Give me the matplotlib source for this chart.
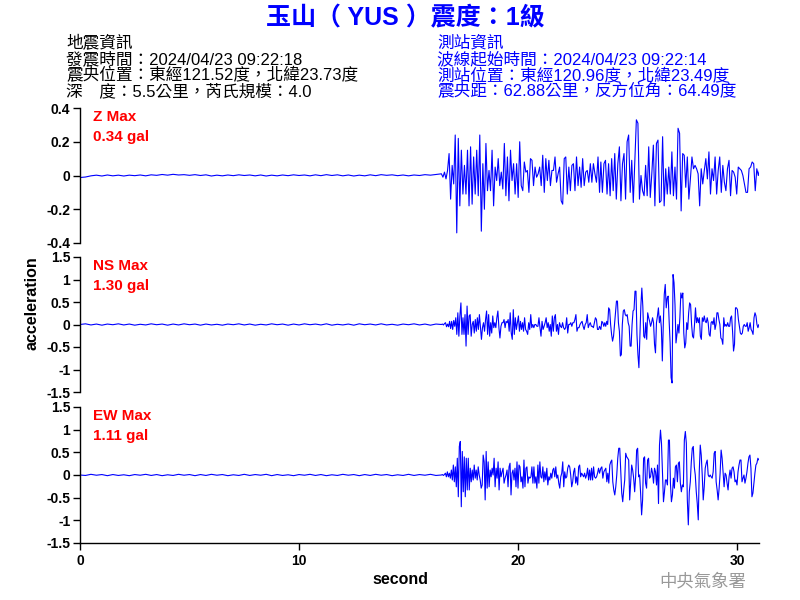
import numpy as np
import matplotlib
matplotlib.use('Agg')
import matplotlib.pyplot as plt

plt.rcParams['font.family'] = ['Liberation Sans', 'Noto Sans CJK TC', 'DejaVu Sans']

# ---------------- text ----------------
TITLE = '玉山（ YUS ）震度：1級'
QUAKE_INFO = ['地震資訊',
              '發震時間：2024/04/23 09:22:18',
              '震央位置：東經121.52度，北緯23.73度',
              '深　度：5.5公里，芮氏規模：4.0']
STATION_INFO = ['測站資訊',
                '波線起始時間：2024/04/23 09:22:14',
                '測站位置：東經120.96度，北緯23.49度',
                '震央距：62.88公里，反方位角：64.49度']
COMPONENTS = ['Z', 'NS', 'EW']
MAX_LABELS = ['0.34 gal', '1.30 gal', '1.11 gal']
WATERMARK = '中央氣象署'
X_LABEL = 'second'
Y_LABEL = 'acceleration'

# ---------------- axes ----------------
X_MAX = 31
X_TICKS = [0, 10, 20, 30]
Z_TICKS = [-0.4, -0.2, 0, 0.2, 0.4]
Z_TICKLABELS = ['-0.4', '-0.2', '0', '0.2', '0.4']
H_TICKS = [-1.5, -1, -0.5, 0, 0.5, 1, 1.5]
H_TICKLABELS = ['-1.5', '-1', '-0.5', '0', '0.5', '1', '1.5']

# ---------------- sample times of the three record segments (s) ----------------
QUIET_START, QUIET_END = 0.0, 16.5
A_START, A_END = 16.5, 23.72
B_START, B_END = 23.78, 31.04

# ---------------- Z component (gal) ----------------
Z_QUIET = [-0.012, -0.009, -0.002, 0.002, -0.003, 0.003, -0.002, 0.002, -0.003, 0.002, -0.001, 0.003,
           -0.002, 0.004, 0.001, 0.006, 0.002, 0.007, 0.003, 0.005, 0.001, 0.005, 0.000, 0.004,
           -0.003, 0.002, -0.002, 0.003, -0.001, 0.004, 0.000, 0.003, -0.002, 0.003, -0.003, 0.002,
           -0.002, 0.003, -0.001, 0.004, 0.000, 0.003, -0.002, 0.004, -0.001, 0.005, 0.000, 0.004,
           -0.002, 0.003, -0.003, 0.002, -0.002, 0.004, -0.001, 0.005, 0.001, 0.004, -0.001, 0.003,
           -0.002, 0.003, 0.000, 0.005, 0.002, 0.006]
Z_A = [0.01, -0.01, 0.02, -0.02, 0.03, 0.13, -0.14, 0.06, -0.05, 0.24, -0.34, 0.22,
       -0.18, 0.15, -0.11, 0.06, -0.11, 0.15, -0.18, 0.17, -0.17, 0.11, -0.11, 0.15, -0.12,
       0.24, -0.33, 0.07, -0.20, 0.19, -0.09, 0.03, -0.09, 0.15, -0.18,
       0.05, -0.03, 0.10, -0.06, 0.02, -0.08, 0.19, -0.12, 0.11, -0.15, 0.15, -0.03, 0.07,
       -0.11, 0.07, -0.13, 0.20, -0.06, -0.09, 0.08, 0.02, 0.03, -0.10, 0.10, 0.09, -0.06,
       0.05, -0.01, 0.01, 0.05, -0.06, 0.12, -0.10, 0.10, -0.03, 0.09, -0.06, 0.03, 0.03,
       0.11, -0.04, 0.01, 0.05, -0.15, -0.17, 0.10, 0.11, -0.11, 0.05, -0.09, 0.06, 0.07,
       -0.09, 0.11, -0.06, 0.05, -0.07, 0.10, -0.06, 0.02, 0.03, -0.04, 0.07, -0.04, 0.07,
       0.01, -0.04, 0.11, -0.10]
Z_B = [0.08, -0.10, 0.07, 0.09, -0.11, 0.07, -0.12, 0.10, -0.09, 0.13, -0.14, 0.07, 0.17,
       -0.15, 0.07, 0.13, -0.14, 0.20, 0.24, -0.10, 0.09, -0.16, 0.08, 0.33, 0.31, -0.14,
       0.00, -0.09, -0.12, 0.06, -0.12, 0.17, -0.13, 0.01, 0.18, -0.18, 0.19, 0.21, -0.16,
       -0.15, 0.23, -0.18, 0.04, -0.11, 0.05, -0.11, 0.14, -0.12, 0.05, -0.14, 0.28, 0.25,
       -0.21, 0.13, 0.12, -0.07, 0.11, -0.14, -0.02, 0.11, 0.04, 0.06, 0.04, 0.01, -0.18,
       0.04, -0.05, 0.03, 0.10, -0.02, 0.14, -0.11, 0.04, -0.03, 0.11, -0.11, 0.03, 0.11,
       -0.10, 0.06, -0.04, -0.09, 0.04, 0.09, -0.12, 0.03, 0.02, -0.01, -0.11, 0.05, 0.04,
       0.03, 0.00, -0.05, -0.10, -0.10, 0.04, 0.05, 0.08, 0.07, -0.09, 0.04, 0.00, 0.04]

# ---------------- NS component (gal) ----------------
NS_QUIET = [0.000, 0.015, -0.010, 0.010, -0.015, 0.010, -0.005, 0.015, -0.010, 0.010, -0.015, 0.005,
            -0.010, 0.015, -0.005, 0.010, -0.015, 0.010, -0.010, 0.015, -0.005, 0.010, -0.015, 0.010,
            -0.010, 0.005, -0.015, 0.010, -0.005, 0.015, -0.010, 0.010, -0.015, 0.005, -0.010, 0.015,
            -0.005, 0.010, -0.015, 0.010, -0.010, 0.015, -0.005, 0.010, -0.010, 0.015, -0.015, 0.005,
            -0.010, 0.010, -0.015, 0.015, -0.005, 0.010, -0.010, 0.015, -0.010, 0.005, -0.015, 0.010,
            -0.005, 0.015, -0.010, 0.010, -0.015, 0.010]
NS_A = [0.00, 0.01, -0.01, 0.02,
        0.04, -0.05, 0.01, -0.05, 0.07, -0.09, 0.07, -0.11, 0.09, -0.04, 0.15, -0.22, 0.26,
        -0.26, 0.19, 0.48, -0.22, 0.15, -0.22, 0.22, -0.48, 0.41, -0.22, 0.19, 0.22, -0.26,
        0.00, 0.07, -0.19, 0.11, -0.15, 0.15, -0.11, 0.22, -0.07, -0.33, -0.07, 0.04, -0.15,
        0.11, 0.30, -0.22, 0.22, -0.26, 0.04, -0.19, 0.19, -0.07, 0.04, -0.07, 0.15, 0.30,
        -0.07, -0.30, -0.04, 0.04, 0.04, 0.11, -0.07, 0.07, 0.04, 0.11, -0.15, 0.26, -0.19,
        -0.33, 0.33, -0.22, 0.15, -0.11, 0.04, 0.19, -0.15, 0.07, -0.11, 0.04, -0.15, 0.15,
        -0.11, -0.15, -0.22, 0.04, -0.11, 0.22, -0.07, 0.00, -0.07, 0.00, 0.00, -0.04, -0.04,
        0.15, -0.07, -0.26, 0.07, -0.11, -0.04, 0.04, 0.15, -0.07, 0.04, -0.15, 0.00, -0.26,
        0.19, -0.15, 0.15, 0.22, -0.15, 0.00, -0.22, 0.04, -0.04, -0.07, 0.04, -0.07, -0.11,
        -0.07, 0.15, -0.19, 0.00, 0.00, 0.04, -0.04, 0.04, 0.04, 0.11, 0.22, -0.15, -0.07,
        -0.07, 0.00, 0.04, 0.07, -0.04, -0.11, 0.00, 0.04, 0.22, -0.07, 0.00, 0.04, -0.04,
        -0.04, -0.07, 0.04, 0.15, 0.11, -0.11, -0.11, -0.04]
NS_B = [-0.11, 0.07, 0.04, -0.04, 0.04, -0.04, 0.07, 0.00, 0.37, 0.33, 0.00, -0.22, -0.37,
        -0.26, 0.00, 0.26, 0.52, 0.52, 0.04, -0.15, -0.70, -0.67, 0.00, 0.30, 0.33, 0.22,
        0.19, 0.22, 0.04, -0.04, -0.48, -0.48, 0.00, 0.30, 0.33, 0.74, 0.74, -0.22, -0.67,
        -0.96, -0.26, 0.41, 0.81, 0.41, -0.26, -0.30, 0.04, -0.33, 0.26, 0.15, 0.07, -0.04,
        0.04, 0.15, 0.04, -0.44, -0.63, 0.04, 0.19, 0.37, 0.04, 0.19, -0.07, -0.81, 0.00,
        0.67, 0.89, 0.37, 0.59, 0.63, 0.07, -0.41, -1.18, -1.30, 1.11, 0.93, 0.44, -0.41,
        -0.22, 0.00, -0.19, 0.15, 0.70, 0.59, 0.70, -0.19, -0.52, -0.41, 0.04, -0.11, 0.26,
        0.48, 0.44, 0.00, -0.26, -0.30, 0.00, 0.37, 0.04, 0.15, 0.04, 0.15, -0.26, -0.33,
        0.15, 0.07, 0.19, 0.07, 0.04, 0.15, 0.04, -0.22, -0.26, 0.04, 0.07, 0.00, 0.15,
        -0.11, 0.00, 0.26, 0.26, 0.11, 0.00, -0.30, -0.33, -0.44, 0.15, -0.04, 0.00, -0.04,
        0.04, -0.04, -0.04, 0.15, 0.19, -0.15, -0.59, -0.44, 0.37, 0.37, 0.33, 0.11, -0.04,
        -0.19, -0.22, -0.19, -0.04, 0.00, -0.04, -0.04, 0.04, -0.15, -0.07, 0.04, -0.11,
        -0.15, -0.22, 0.15, 0.26, 0.19, 0.00, -0.07, 0.00, 0.00]

# ---------------- EW component (gal) ----------------
EW_QUIET = [0.000, -0.010, 0.015, -0.005, 0.010, -0.015, 0.010, -0.010, 0.005, -0.015, 0.010, -0.005,
            0.015, -0.010, 0.010, -0.015, 0.005, -0.010, 0.015, -0.005, 0.010, -0.015, 0.010, -0.010,
            0.015, -0.005, 0.010, -0.015, 0.005, -0.010, 0.015, -0.010, 0.010, -0.005, 0.015, -0.015,
            0.010, -0.010, 0.005, -0.015, 0.010, -0.005, 0.015, -0.010, 0.010, -0.015, 0.005, -0.010,
            0.015, -0.005, 0.010, -0.015, 0.010, -0.010, 0.015, -0.005, 0.010, -0.015, 0.005, -0.010,
            0.015, -0.010, 0.010, -0.005, 0.015, -0.010]
EW_A = [0.00, 0.01, -0.01, 0.01,
        0.04, -0.04, 0.07, -0.04, 0.04, -0.07, 0.11, -0.11, 0.22, -0.15, 0.18, -0.26, 0.37,
        -0.48, 0.63, 0.74, -0.70, 0.52, -0.37, 0.40, -0.48, 0.37, -0.33, 0.37, -0.33, 0.15,
        -0.15, 0.11, -0.11, 0.22, -0.07, 0.11, -0.11, 0.18, 0.00, -0.11, -0.29, -0.22, 0.44,
        0.29, -0.55, 0.52, -0.29, 0.29, -0.26, 0.11, -0.04, 0.15, 0.00, 0.37, -0.26, 0.15,
        -0.07, 0.29, -0.33, 0.15, -0.04, 0.07, 0.15, -0.18, -0.07, 0.00, 0.11, -0.26, 0.18,
        0.26, -0.44, 0.04, 0.11, -0.11, 0.15, -0.26, 0.29, -0.29, 0.22, 0.18, -0.15, -0.04,
        -0.29, 0.33, -0.26, 0.15, 0.18, -0.18, -0.04, -0.07, -0.04, 0.18, -0.18, 0.18, -0.18,
        -0.04, -0.29, 0.22, -0.18, 0.29, -0.04, -0.07, 0.18, -0.15, 0.07, -0.11, 0.15, -0.22,
        -0.04, -0.11, 0.04, -0.07, 0.11, 0.15, -0.04, 0.18, -0.07, 0.00, -0.18, -0.29, -0.04,
        0.04, 0.29, -0.26, 0.07, -0.07, -0.04, 0.15, 0.22, 0.18, 0.00, -0.26, -0.15, 0.07,
        0.15, -0.18, -0.04, -0.22, 0.18, 0.22, -0.04, 0.04, 0.00, -0.04, 0.04, -0.07, 0.00,
        0.15, -0.11, 0.11, -0.11, 0.15, -0.11, 0.18, -0.04, -0.07, -0.04, 0.04, 0.15, 0.04]
EW_B = [0.15, 0.18, -0.07, 0.07, 0.11, 0.15, -0.15, 0.04, -0.18, 0.22, 0.29, 0.33, -0.15,
        -0.33, -0.44, -0.26, 0.00, 0.37, 0.59, 0.59, 0.07, -0.40, -0.59, -0.33, -0.11, 0.48,
        0.40, 0.37, 0.33, -0.55, -0.15, 0.22, 0.11, -0.07, -0.37, -0.04, 0.55, 0.59, -0.04,
        0.00, -0.40, -0.88, -0.55, 0.37, 0.40, -0.18, -0.29, 0.33, 0.37, -0.07, -0.04, 0.15,
        0.04, -0.18, 0.15, 0.07, -0.22, 0.22, -0.63, 0.66, 0.99, 0.70, 0.07, -0.59, -0.37,
        -0.11, -0.11, -0.22, 0.77, 0.77, -0.18, -0.59, -0.44, -0.07, -0.29, 0.18, 0.22, -0.15,
        0.26, 0.29, -0.18, -0.37, -0.22, -0.26, 0.77, 0.96, 0.70, -0.55, -1.10, -0.37, -0.15,
        0.29, 0.59, 0.63, 0.18, 0.00, -0.37, -0.63, -0.99, 0.07, 0.66, 0.44, 0.00, -0.55,
        -0.26, 0.15, 0.26, 0.33, 0.00, -0.04, 0.00, -0.04, -0.07, 0.07, 0.48, 0.52, -0.15,
        -0.33, -0.55, -0.29, 0.04, 0.55, 0.37, 0.07, -0.26, 0.04, 0.00, -0.18, -0.33, -0.04,
        0.11, -0.07, 0.15, 0.18, 0.07, -0.15, -0.11, -0.22, 0.07, 0.22, 0.33, 0.33, -0.15,
        -0.07, 0.00, -0.18, -0.07, 0.07, 0.26, 0.40, 0.44, 0.15, -0.48, -0.40, -0.18, 0.04,
        0.22, 0.26, 0.37, 0.33, 0.33]

TRACES = [(Z_QUIET, Z_A, Z_B), (NS_QUIET, NS_A, NS_B), (EW_QUIET, EW_A, EW_B)]

BLUE = '#0000FF'
RED = '#FF0000'


def build(quiet, seg_a, seg_b):
    t = np.concatenate([
        np.linspace(QUIET_START, QUIET_END, len(quiet), endpoint=False),
        np.linspace(A_START, A_END, len(seg_a)),
        np.linspace(B_START, B_END, len(seg_b)),
    ])
    v = np.concatenate([quiet, seg_a, seg_b])
    return t, v


fig = plt.figure(figsize=(8, 6), dpi=100)

W, H = 800.0, 600.0
left = 80 / W
width = (759 - 80) / W
panel_px = [(108, 243), (257, 392), (407, 543)]   # top, bottom in pixels

for k, (comp, lab, traces) in enumerate(zip(COMPONENTS, MAX_LABELS, TRACES)):
    top, bot = panel_px[k]
    ax = fig.add_axes([left, 1 - bot / H, width, (bot - top) / H])
    t, v = build(*traces)
    ax.plot(t, v, color=BLUE, lw=0.8)
    ax.set_xlim(0, X_MAX)
    if k == 0:
        ax.set_ylim(-0.4, 0.4)
        ax.set_yticks(Z_TICKS)
        ax.set_yticklabels(Z_TICKLABELS)
    else:
        ax.set_ylim(-1.5, 1.5)
        ax.set_yticks(H_TICKS)
        ax.set_yticklabels(H_TICKLABELS)
    for s in ['top', 'right']:
        ax.spines[s].set_visible(False)
    ax.spines['left'].set_linewidth(1.0)
    ax.tick_params(axis='y', direction='out', length=5, width=1, pad=2, labelsize=10)
    for tl in ax.get_yticklabels():
        tl.set_fontweight('bold')
    if k < 2:
        ax.spines['bottom'].set_visible(False)
        ax.set_xticks([])
    else:
        ax.spines['bottom'].set_linewidth(1.0)
        ax.set_xticks(X_TICKS)
        ax.set_xticklabels([str(x) for x in X_TICKS])
        ax.tick_params(axis='x', direction='out', length=5, width=1, pad=3, labelsize=10)
        for tl in ax.get_xticklabels():
            tl.set_fontweight('bold')
    # red max labels
    fig.text(93 / W, 1 - (top + 9) / H, f'{comp} Max', color=RED, fontsize=11,
             fontweight='bold', va='center', ha='left')
    fig.text(93 / W, 1 - (top + 29) / H, lab, color=RED, fontsize=11,
             fontweight='bold', va='center', ha='left')

# title and headers
fig.text(405 / W, 1 - 18 / H, TITLE, color=BLUE, fontsize=18, fontweight='bold',
         ha='center', va='center')
for i, line in enumerate(QUAKE_INFO):
    fig.text(66 / W, 1 - (43 + 16 * i) / H, line, color='black', fontsize=12,
             ha='left', va='center')
for i, line in enumerate(STATION_INFO):
    fig.text(437 / W, 1 - (43 + 16 * i) / H, line, color=BLUE, fontsize=12,
             ha='left', va='center')

fig.text(32 / W, 1 - 303 / H, Y_LABEL, rotation=90, fontsize=11.5, fontweight='bold',
         ha='center', va='center')
fig.text(400 / W, 1 - 580 / H, X_LABEL, fontsize=11.5, fontweight='bold',
         ha='center', va='center')
fig.text(703 / W, 1 - 581 / H, WATERMARK, fontsize=12.5, color='#999999',
         ha='center', va='center', family=['Noto Sans CJK TC'])

fig.savefig('out.png', dpi=100)
